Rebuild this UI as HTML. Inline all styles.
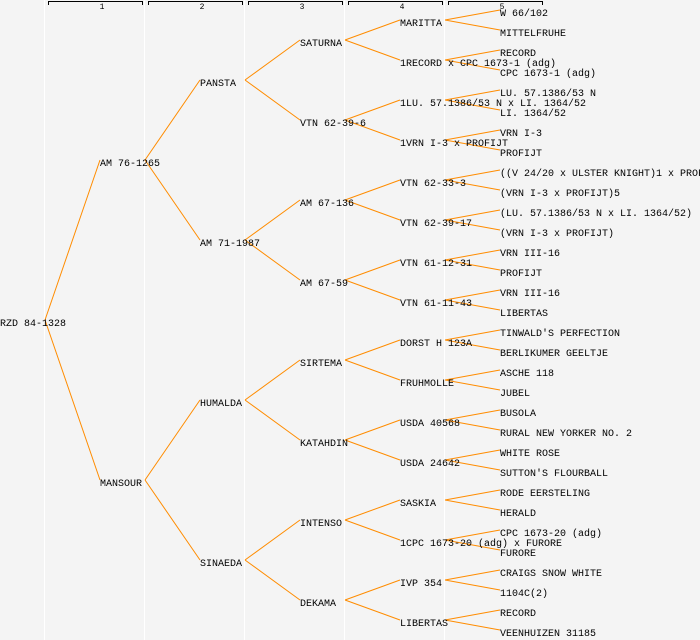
<!DOCTYPE html>
<html><head><meta charset="utf-8"><style>
html,body{margin:0;padding:0;background:#f4f4f4}
svg{display:block}
text{font-family:"Liberation Mono",monospace;font-size:10px;fill:#000}
</style></head><body>
<svg width="700" height="640" xmlns="http://www.w3.org/2000/svg">
<rect width="700" height="640" fill="#f4f4f4"/>
<g fill="#fff">
<rect x="44" y="0" width="1" height="640"/><rect x="144" y="0" width="1" height="640"/><rect x="244" y="0" width="1" height="640"/><rect x="344" y="0" width="1" height="640"/><rect x="444" y="0" width="1" height="640"/>
</g>
<g stroke="#000" fill="none" stroke-width="1">
<path d="M48.5,5V1.5H142.5V5 M148.5,5V1.5H242.5V5 M248.5,5V1.5H342.5V5 M348.5,5V1.5H442.5V5 M448.5,5V1.5H542.5V5"/>
</g>
<g style="font-size:8px">
<text x="102" y="9" text-anchor="middle" style="font-size:8px">1</text>
<text x="202" y="9" text-anchor="middle" style="font-size:8px">2</text>
<text x="302" y="9" text-anchor="middle" style="font-size:8px">3</text>
<text x="402" y="9" text-anchor="middle" style="font-size:8px">4</text>
<text x="502" y="9" text-anchor="middle" style="font-size:8px">5</text>
</g>
<path stroke="#ff8c00" stroke-width="1" fill="none" d="
M45,320L100,160M45,320L100,480
M145,160L200,80M145,160L200,240M145,480L200,400M145,480L200,560
M245,80L300,40M245,80L300,120M245,240L300,200M245,240L300,280M245,400L300,360M245,400L300,440M245,560L300,520M245,560L300,600
M345,40L400,20M345,40L400,60M345,120L400,100M345,120L400,140M345,200L400,180M345,200L400,220M345,280L400,260M345,280L400,300M345,360L400,340M345,360L400,380M345,440L400,420M345,440L400,460M345,520L400,500M345,520L400,540M345,600L400,580M345,600L400,620
M445,20L500,10M445,20L500,30M445,60L500,50M445,60L500,70M445,100L500,90M445,100L500,110M445,140L500,130M445,140L500,150
M445,180L500,170M445,180L500,190M445,220L500,210M445,220L500,230M445,260L500,250M445,260L500,270M445,300L500,290M445,300L500,310
M445,340L500,330M445,340L500,350M445,380L500,370M445,380L500,390M445,420L500,410M445,420L500,430M445,460L500,450M445,460L500,470
M445,500L500,490M445,500L500,510M445,540L500,530M445,540L500,550M445,580L500,570M445,580L500,590M445,620L500,610M445,620L500,630"/>
<text x="0" y="326">RZD 84-1328</text>
<text x="100" y="166">AM 76-1265</text>
<text x="100" y="486">MANSOUR</text>
<text x="200" y="86">PANSTA</text>
<text x="200" y="246">AM 71-1987</text>
<text x="200" y="406">HUMALDA</text>
<text x="200" y="566">SINAEDA</text>
<text x="300" y="46">SATURNA</text>
<text x="300" y="126">VTN 62-39-6</text>
<text x="300" y="206">AM 67-136</text>
<text x="300" y="286">AM 67-59</text>
<text x="300" y="366">SIRTEMA</text>
<text x="300" y="446">KATAHDIN</text>
<text x="300" y="526">INTENSO</text>
<text x="300" y="606">DEKAMA</text>
<text x="400" y="26">MARITTA</text>
<text x="400" y="66">1RECORD x CPC 1673-1 (adg)</text>
<text x="400" y="106">1LU. 57.1386/53 N x LI. 1364/52</text>
<text x="400" y="146">1VRN I-3 x PROFIJT</text>
<text x="400" y="186">VTN 62-33-3</text>
<text x="400" y="226">VTN 62-39-17</text>
<text x="400" y="266">VTN 61-12-31</text>
<text x="400" y="306">VTN 61-11-43</text>
<text x="400" y="346">DORST H 123A</text>
<text x="400" y="386">FRUHMOLLE</text>
<text x="400" y="426">USDA 40568</text>
<text x="400" y="466">USDA 24642</text>
<text x="400" y="506">SASKIA</text>
<text x="400" y="546">1CPC 1673-20 (adg) x FURORE</text>
<text x="400" y="586">IVP 354</text>
<text x="400" y="626">LIBERTAS</text>
<text x="500" y="16">W 66/102</text>
<text x="500" y="36">MITTELFRUHE</text>
<text x="500" y="56">RECORD</text>
<text x="500" y="76">CPC 1673-1 (adg)</text>
<text x="500" y="96">LU. 57.1386/53 N</text>
<text x="500" y="116">LI. 1364/52</text>
<text x="500" y="136">VRN I-3</text>
<text x="500" y="156">PROFIJT</text>
<text x="500" y="176">((V 24/20 x ULSTER KNIGHT)1 x PROFIJT)</text>
<text x="500" y="196">(VRN I-3 x PROFIJT)5</text>
<text x="500" y="216">(LU. 57.1386/53 N x LI. 1364/52)</text>
<text x="500" y="236">(VRN I-3 x PROFIJT)</text>
<text x="500" y="256">VRN III-16</text>
<text x="500" y="276">PROFIJT</text>
<text x="500" y="296">VRN III-16</text>
<text x="500" y="316">LIBERTAS</text>
<text x="500" y="336">TINWALD'S PERFECTION</text>
<text x="500" y="356">BERLIKUMER GEELTJE</text>
<text x="500" y="376">ASCHE 118</text>
<text x="500" y="396">JUBEL</text>
<text x="500" y="416">BUSOLA</text>
<text x="500" y="436">RURAL NEW YORKER NO. 2</text>
<text x="500" y="456">WHITE ROSE</text>
<text x="500" y="476">SUTTON'S FLOURBALL</text>
<text x="500" y="496">RODE EERSTELING</text>
<text x="500" y="516">HERALD</text>
<text x="500" y="536">CPC 1673-20 (adg)</text>
<text x="500" y="556">FURORE</text>
<text x="500" y="576">CRAIGS SNOW WHITE</text>
<text x="500" y="596">1104C(2)</text>
<text x="500" y="616">RECORD</text>
<text x="500" y="636">VEENHUIZEN 31185</text>
</svg>
</body></html>
